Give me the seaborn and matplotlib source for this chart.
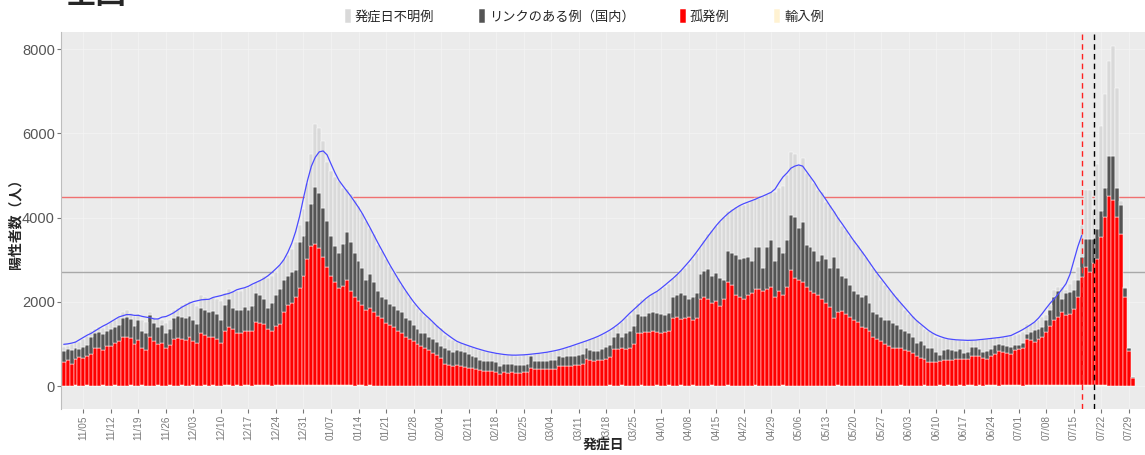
import numpy as np
import pandas as pd
import seaborn as sns
import matplotlib.pyplot as plt

# daily counts by onset date, first bar = 2020-10-31
start_date = '2020-10-31'

# 孤発例
isolated = [
    550, 600, 520, 620, 680, 650, 700, 760, 900, 880,
    850, 950, 940, 1000, 1050, 1150, 1150, 1120, 1000, 1080,
    900, 850, 1150, 1050, 980, 1000, 900, 950, 1100, 1120,
    1100, 1080, 1150, 1050, 1000, 1250, 1200, 1150, 1150, 1100,
    1000, 1300, 1400, 1350, 1250, 1250, 1300, 1300, 1300, 1500,
    1480, 1450, 1350, 1300, 1400, 1450, 1750, 1900, 1950, 2100,
    2300, 2600, 3000, 3300, 3350, 3250, 3050, 2800, 2600, 2450,
    2300, 2350, 2500, 2250, 2100, 2000, 1900, 1800, 1850, 1750,
    1650, 1600, 1500, 1450, 1400, 1300, 1250, 1150, 1100, 1050,
    1000, 950, 900, 850, 780, 720, 650, 520, 500, 470,
    500, 480, 440, 430, 420, 400, 380, 360, 350, 350,
    340, 280, 320, 310, 320, 310, 300, 320, 330, 420,
    400, 390, 400, 390, 400, 410, 470, 470, 480, 470,
    480, 500, 520, 630, 600, 590, 600, 620, 640, 680,
    860, 870, 880, 880, 900, 1000, 1250, 1250, 1270, 1280,
    1290, 1270, 1250, 1280, 1300, 1600, 1620, 1580, 1600, 1620,
    1550, 1600, 2050, 2100, 2050, 1950, 2000, 1900, 2050, 2450,
    2400, 2150, 2100, 2050, 2150, 2200, 2300, 2300, 2250, 2300,
    2350, 2100, 2250, 2150, 2350, 2750, 2550, 2500, 2450, 2350,
    2250, 2200, 2150, 2050, 1950, 1860, 1600, 1750, 1780, 1700,
    1620, 1550, 1500, 1400, 1380, 1300, 1150, 1100, 1050, 1000,
    950, 900, 900, 880, 850, 820, 780, 700, 650, 620,
    550, 560, 560, 570, 600, 600, 610, 630, 630, 640,
    630, 700, 710, 690, 660, 630, 700, 740, 830, 800,
    760, 750, 830, 870, 900, 1100, 1070, 1030, 1100, 1150,
    1260, 1400, 1550, 1620, 1740, 1660, 1700, 1820, 2100, 2570,
    2800, 2700, 2900, 3000, 3520, 4000, 4500, 4400, 4000, 3600,
    2100, 820, 200,
]

# リンクのある例（国内）
linked = [
    280, 270, 320, 280, 200, 270, 270, 390, 350, 400,
    370, 350, 410, 380, 400, 450, 470, 460, 420, 480,
    400, 400, 530, 450, 400, 450, 350, 400, 500, 530,
    520, 520, 500, 500, 450, 600, 600, 600, 630, 600,
    550, 600, 650, 500, 550, 550, 550, 500, 600, 700,
    670, 600, 500, 650, 750, 850, 750, 700, 750, 650,
    1100, 950, 900, 1000, 1350, 1300, 1150, 1100, 950, 850,
    850, 1000, 1150, 1150, 1050, 950, 900, 700, 800, 700,
    600, 500, 550, 500, 500, 500, 500, 450, 450, 400,
    350, 300, 350, 300, 320, 330, 300, 380, 360, 330,
    360, 340, 350, 330, 280, 280, 240, 230, 250, 230,
    220, 200, 200, 200, 200, 190, 190, 180, 190, 280,
    180, 200, 180, 190, 200, 210, 230, 210, 220, 240,
    220, 220, 230, 270, 240, 230, 230, 240, 270, 270,
    290, 380, 270, 370, 400, 420, 450, 400, 390, 440,
    470, 450, 450, 400, 410, 500, 530, 620, 550, 430,
    550, 600, 600, 630, 730, 660, 680, 650, 450, 750,
    750, 950, 900, 970, 900, 750, 980, 1000, 550, 1000,
    1100, 850, 1050, 1000, 1100, 1300, 1450, 1250, 1430, 1000,
    1050, 1000, 800, 1050, 1050, 940, 1450, 1050, 820, 850,
    780, 700, 680, 700, 770, 650, 600, 600, 570, 550,
    600, 600, 550, 470, 450, 430, 370, 320, 400, 330,
    350, 320, 240, 150, 250, 260, 230, 190, 230, 140,
    170, 200, 210, 180, 140, 190, 170, 210, 160, 170,
    170, 160, 120, 90, 100, 130, 190, 270, 250, 250,
    280, 400, 550, 630, 320, 520, 520, 440, 400, 480,
    680, 780, 580, 720, 630, 700, 960, 1060, 700, 700,
    230, 80, 10,
]

# 発症日不明例
unknown = [
    90, 80, 160, 150, 150, 180, 210, 150, 100, 100,
    140, 150, 150, 180, 170, 150, 180, 140, 230, 140,
    250, 250, 70, 120, 220, 100, 250, 210, 200, 200,
    280, 350, 350, 400, 450, 300, 300, 300, 320, 350,
    450, 300, 250, 400, 450, 450, 450, 550, 500, 250,
    350, 550, 700, 650, 550, 550, 500, 500, 550, 650,
    400, 650, 900, 1200, 1500, 1550, 1600, 1400, 1550, 1650,
    1700, 1350, 1000, 1150, 1250, 1300, 1300, 1400, 1100, 1150,
    1100, 1100, 950, 900, 800, 750, 650, 650, 550, 500,
    500, 500, 400, 450, 400, 400, 430, 300, 260, 280,
    190, 200, 190, 190, 220, 200, 230, 240, 200, 200,
    210, 270, 220, 220, 200, 210, 230, 230, 220, 60,
    180, 180, 200, 210, 200, 200, 160, 200, 200, 220,
    260, 280, 280, 180, 260, 310, 320, 340, 340, 350,
    250, 200, 350, 350, 380, 380, 250, 400, 390, 400,
    440, 530, 600, 670, 710, 450, 500, 550, 650, 850,
    900, 950, 650, 720, 820, 1090, 1120, 1350, 1500, 950,
    1050, 1150, 1300, 1280, 1300, 1450, 1170, 1150, 1700, 1250,
    1150, 1650, 1400, 1600, 1550, 1500, 1500, 1500, 1520, 1700,
    1650, 1600, 1700, 1500, 1350, 1500, 1100, 1200, 1200, 1150,
    1150, 1200, 1170, 1100, 900, 1000, 1050, 950, 880, 850,
    750, 700, 650, 600, 500, 450, 500, 530, 400, 400,
    400, 370, 350, 410, 270, 240, 260, 260, 220, 280,
    260, 180, 150, 200, 300, 290, 250, 180, 160, 170,
    220, 260, 250, 270, 260, 230, 200, 200, 210, 220,
    140, 100, 160, 80, 270, 80, 190, 240, 300, 750,
    1150, 1150, 670, 1540, 2020, 2220, 2240, 2610, 2380, 100,
    20, 10, 0,
]

# 輸入例
imported = [
    12, 8, 10, 15, 9, 11, 14, 10, 7, 12,
    13, 9, 11, 16, 10, 8, 12, 14, 9, 11,
    15, 10, 12, 9, 13, 11, 8, 14, 10, 12,
    16, 11, 9, 13, 12, 10, 15, 11, 14, 9,
    12, 17, 13, 10, 15, 12, 18, 14, 11, 16,
    13, 19, 15, 12, 17, 14, 20, 16, 13, 18,
    22, 17, 25, 20, 18, 24, 21, 19, 16, 22,
    18, 15, 20, 14, 12, 17, 13, 11, 15, 10,
    9, 12, 8, 10, 7, 9, 11, 6, 8, 10,
    7, 9, 6, 8, 10, 7, 5, 8, 6, 9,
    7, 5, 8, 6, 4, 7, 9, 5, 6, 8,
    4, 6, 7, 5, 8, 6, 4, 7, 5, 9,
    6, 8, 5, 7, 9, 6, 8, 10, 7, 9,
    11, 8, 10, 7, 12, 9, 11, 8, 10, 13,
    9, 11, 14, 10, 12, 8, 11, 13, 9, 12,
    10, 14, 11, 9, 13, 10, 12, 15, 11, 9,
    13, 10, 12, 8, 11, 14, 9, 12, 10, 13,
    11, 9, 12, 10, 8, 11, 13, 9, 10, 12,
    8, 11, 9, 13, 10, 7, 12, 9, 11, 8,
    10, 12, 9, 7, 11, 8, 10, 13, 9, 11,
    8, 10, 12, 9, 7, 11, 10, 8, 12, 9,
    11, 8, 10, 13, 9, 12, 10, 8, 11, 14,
    10, 12, 9, 13, 11, 15, 10, 12, 14, 11,
    13, 16, 12, 14, 11, 15, 13, 17, 12, 14,
    16, 13, 18, 15, 12, 17, 14, 19, 16, 13,
    18, 15, 20, 17, 14, 19, 16, 21, 18, 15,
    20, 17, 22, 19, 16, 14, 12, 10, 8, 5,
    3, 2, 1,
]

tick_labels = ['11/05', '11/12', '11/19', '11/26', '12/03', '12/10', '12/17',
               '12/24', '12/31', '01/07', '01/14', '01/21', '01/28', '02/04',
               '02/11', '02/18', '02/25', '03/04', '03/11', '03/18', '03/25',
               '04/01', '04/08', '04/15', '04/22', '04/29', '05/06', '05/13',
               '05/20', '05/27', '06/03', '06/10', '06/17', '06/24', '07/01',
               '07/08', '07/15', '07/22', '07/29']

levels = ['発症日不明例', 'リンクのある例（国内）', '孤発例', '輸入例']
colors = ['#D9D9D9', '#545454', '#FF0000', '#FFF2D2']

red_level = 4500
gray_level = 2720
red_dash = '2021-07-17'
black_dash = '2021-07-20'
avg_end = '2021-07-17'

dates = pd.date_range(start_date, periods=len(isolated))
df = pd.DataFrame({'day': np.arange(len(dates)),
                   levels[0]: unknown, levels[1]: linked,
                   levels[2]: isolated, levels[3]: imported})
long = df.melt(id_vars='day', var_name='type', value_name='count')
total = df[levels].sum(axis=1)
avg = total.rolling(7, center=True, min_periods=1).mean()
cut = dates.get_loc(pd.Timestamp(avg_end)) + 1

sns.set_theme(style='darkgrid', rc={'axes.facecolor': '#EBEBEB', 'grid.color': '#F4F4F4'})
plt.rcParams['font.family'] = ['Liberation Sans', 'Noto Sans CJK JP']

fig = plt.figure(figsize=(11.45, 4.55), dpi=100)
ax = fig.add_axes([0.0533, 0.1011, 0.9467, 0.8286])

sns.histplot(data=long, x='day', weights='count', hue='type', hue_order=levels,
             palette=colors, multiple='stack', discrete=True, shrink=1,
             edgecolor='white', linewidth=0.35, alpha=1, ax=ax)
sns.lineplot(x=df['day'][:cut], y=avg[:cut], color='#4B4BFF', linewidth=0.9, ax=ax)

ax.axhline(red_level, color='#F07070', linewidth=1.0, zorder=0.9)
ax.axhline(gray_level, color='#A8A8A8', linewidth=1.0, zorder=0.9)
ax.axvline(dates.get_loc(pd.Timestamp(red_dash)), color='#FF2020', linestyle=(0, (4, 3)), linewidth=1)
ax.axvline(dates.get_loc(pd.Timestamp(black_dash)), color='black', linestyle=(0, (4, 3)), linewidth=1)

ax.set_xlim(-0.69, 275.1)
ax.set_ylim(-546, 8411)
ax.set_xticks(np.arange(5, 5 + 7 * len(tick_labels), 7))
ax.set_xticklabels(tick_labels, rotation=90, fontsize=7.2, color='#7A7A7A')
ax.set_yticks([0, 2000, 4000, 6000, 8000])
ax.set_yticklabels(['0', '2000', '4000', '6000', '8000'], fontsize=10.5, color='#555555')
ax.tick_params(axis='x', length=3, width=0.8, color='#777777', pad=1.5, bottom=True)
ax.tick_params(axis='y', length=3, width=0.8, color='#777777', pad=1.5, left=True)
ax.grid(axis='both', linewidth=0.5)

for side in ['top', 'right', 'bottom']:
    ax.spines[side].set_visible(False)
ax.spines['left'].set_visible(True)
ax.spines['left'].set_color('#BDBDBD')
ax.spines['left'].set_linewidth(0.8)

ax.set_xlabel('発症日', fontsize=10, fontweight='bold')
ax.xaxis.set_label_coords(0.5, -0.0955)
ax.xaxis.label.set_va('center')
ax.set_ylabel('陽性者数（人）', fontsize=10, fontweight='bold')
ax.yaxis.set_label_coords(-0.036, 0.5)

sns.move_legend(ax, 'center', bbox_to_anchor=(0.483, 1.042), ncol=4, title=None,
                frameon=False, fontsize=9.5, handlelength=0.45, handleheight=1.3,
                handletextpad=0.3, columnspacing=3.4)

fig.text(0.057, 1 - 10 / 455, '全国', fontsize=22, fontweight='bold', va='bottom', ha='left')

fig.savefig('out.png', dpi=100)
